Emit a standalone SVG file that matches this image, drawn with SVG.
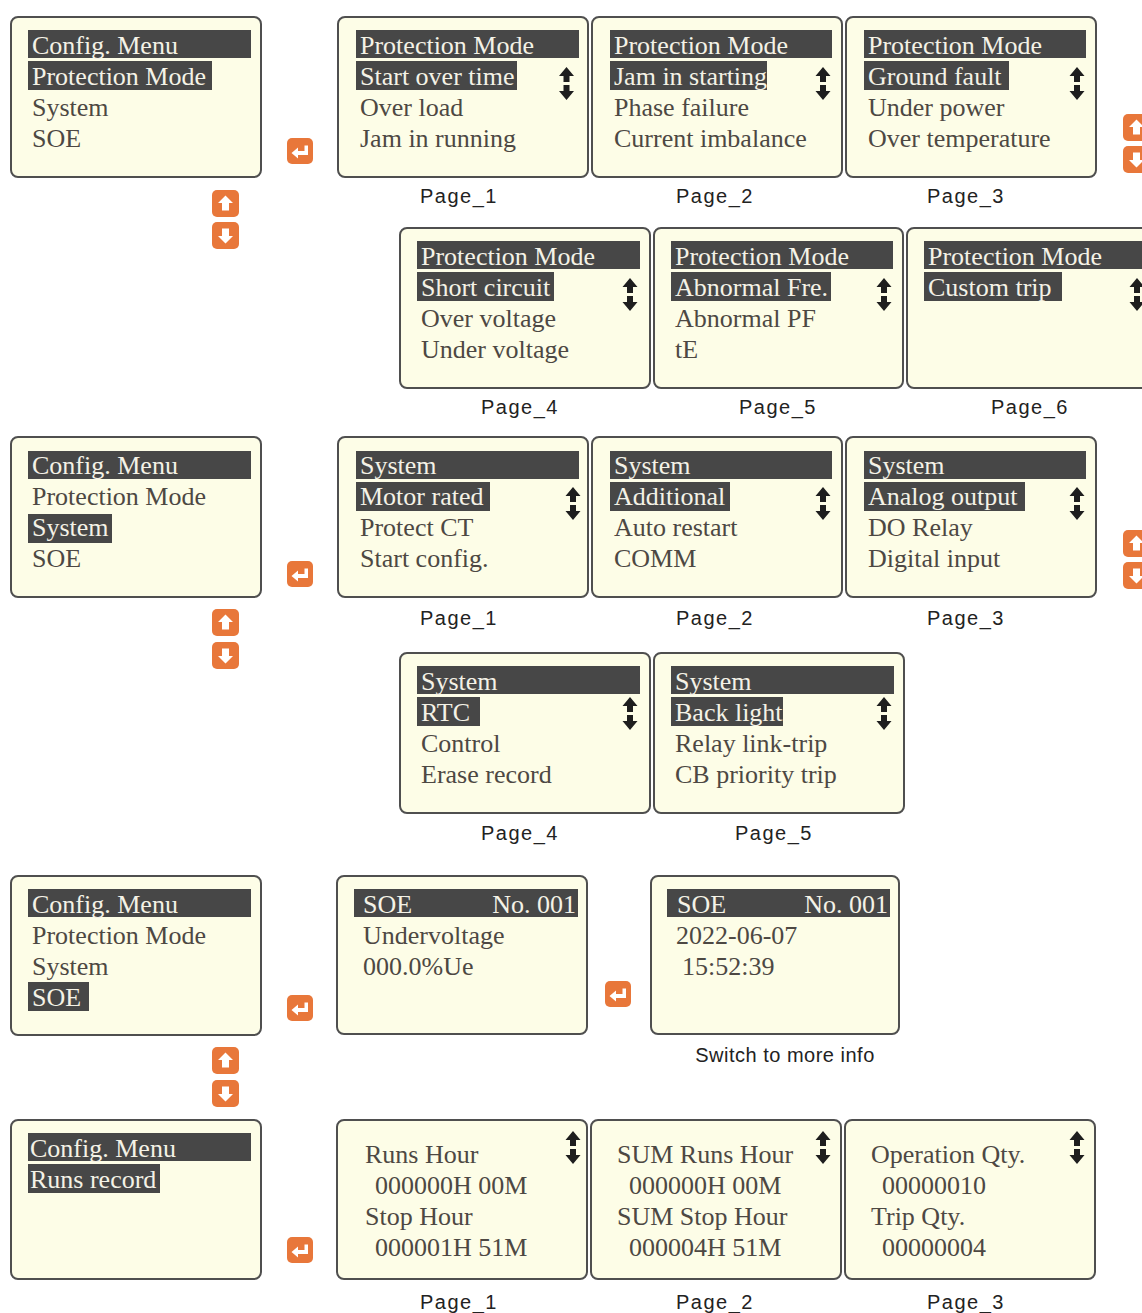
<svg xmlns="http://www.w3.org/2000/svg" width="1142" height="1313" viewBox="0 0 1142 1313">
<style>
.scr{fill:#fdfde7;stroke:#4f4f4f;stroke-width:2}
.bar{fill:#474747}
.t{font-family:"Liberation Serif","Times New Roman",serif;font-size:26px;fill:#4d4843}
.tw{fill:#f4f2e6}
.lbl{font-family:"Liberation Sans",Arial,sans-serif;font-size:20px;fill:#222;text-anchor:middle;letter-spacing:1.5px}
.btn{fill:#e8773a}
.ico{fill:#ffffff}
.ud{fill:#1e1e1e}
</style>
<defs>
<g id="ud">
<path class="ud" d="M-7.5,9 L0,0 L7.5,9 L3,9 L3,15 L-3,15 L-3,9 Z"/>
<path class="ud" d="M-3,18 L3,18 L3,24 L7.5,24 L0,33 L-7.5,24 L-3,24 Z"/>
</g>
<g id="bup">
<rect class="btn" x="0" y="0" width="27" height="27" rx="5"/>
<path class="ico" d="M13.5,5.5 L21,13 L17,13 L17,20.5 L10,20.5 L10,13 L6,13 Z"/>
</g>
<g id="bdn">
<rect class="btn" x="0" y="0" width="27" height="27" rx="5"/>
<path class="ico" d="M13.5,21.5 L21,14 L17,14 L17,6.5 L10,6.5 L10,14 L6,14 Z"/>
</g>
<g id="bent">
<rect class="btn" x="0" y="0" width="26" height="26" rx="5"/>
<path class="ico" d="M21,7.5 L21,17 L11,17 L11,20.5 L4.5,15 L11,9.5 L11,13 L17.5,13 L17.5,7.5 Z"/>
</g>
</defs>
<rect x="0" y="0" width="1142" height="1313" fill="#ffffff"/>

<!-- Row 1: Config menu, Protection Mode selected -->
<g id="menu-protection">
<rect class="scr" x="11" y="17" width="250" height="160" rx="7"/>
<rect class="bar" x="28" y="30" width="223" height="28"/>
<rect class="bar" x="28" y="61" width="184" height="29"/>
<text class="t tw" x="32" y="54">Config. Menu</text>
<text class="t tw" x="32" y="85">Protection Mode</text>
<text class="t" x="32" y="116">System</text>
<text class="t" x="32" y="147">SOE</text>
</g>
<g id="pm-page1">
<rect class="scr" x="338" y="17" width="250" height="160" rx="7"/>
<rect class="bar" x="356" y="30" width="223" height="28"/>
<rect class="bar" x="356" y="61" width="161" height="29"/>
<text class="t tw" x="360" y="54">Protection Mode</text>
<text class="t tw" x="360" y="85">Start over time</text>
<text class="t" x="360" y="116">Over load</text>
<text class="t" x="360" y="147">Jam in running</text>
<use href="#ud" x="566.5" y="67"/>
<text class="lbl" x="459" y="203">Page_1</text>
</g>
<g id="pm-page2">
<rect class="scr" x="592" y="17" width="250" height="160" rx="7"/>
<rect class="bar" x="610" y="30" width="222" height="28"/>
<rect class="bar" x="610" y="61" width="157" height="29"/>
<text class="t tw" x="614" y="54">Protection Mode</text>
<text class="t tw" x="614" y="85">Jam in starting</text>
<text class="t" x="614" y="116">Phase failure</text>
<text class="t" x="614" y="147">Current imbalance</text>
<use href="#ud" x="823" y="67"/>
<text class="lbl" x="715" y="203">Page_2</text>
</g>
<g id="pm-page3">
<rect class="scr" x="846" y="17" width="250" height="160" rx="7"/>
<rect class="bar" x="864" y="30" width="222" height="28"/>
<rect class="bar" x="864" y="61" width="145" height="29"/>
<text class="t tw" x="868" y="54">Protection Mode</text>
<text class="t tw" x="868" y="85">Ground fault</text>
<text class="t" x="868" y="116">Under power</text>
<text class="t" x="868" y="147">Over temperature</text>
<use href="#ud" x="1077" y="67"/>
<text class="lbl" x="966" y="203">Page_3</text>
</g>

<!-- Row 2 -->
<g id="pm-page4">
<rect class="scr" x="400" y="228" width="250" height="160" rx="7"/>
<rect class="bar" x="417" y="241" width="223" height="28"/>
<rect class="bar" x="417" y="272" width="137" height="29"/>
<text class="t tw" x="421" y="265">Protection Mode</text>
<text class="t tw" x="421" y="296">Short circuit</text>
<text class="t" x="421" y="327">Over voltage</text>
<text class="t" x="421" y="358">Under voltage</text>
<use href="#ud" x="630" y="278"/>
<text class="lbl" x="520" y="414">Page_4</text>
</g>
<g id="pm-page5">
<rect class="scr" x="654" y="228" width="249" height="160" rx="7"/>
<rect class="bar" x="671" y="241" width="222" height="28"/>
<rect class="bar" x="671" y="272" width="160" height="29"/>
<text class="t tw" x="675" y="265">Protection Mode</text>
<text class="t tw" x="675" y="296">Abnormal Fre.</text>
<text class="t" x="675" y="327">Abnormal PF</text>
<text class="t" x="675" y="358">tE</text>
<use href="#ud" x="884" y="278"/>
<text class="lbl" x="778" y="414">Page_5</text>
</g>
<g id="pm-page6">
<rect class="scr" x="907" y="228" width="250" height="160" rx="7"/>
<rect class="bar" x="924" y="241" width="224" height="28"/>
<rect class="bar" x="924" y="272" width="138" height="29"/>
<text class="t tw" x="928" y="265">Protection Mode</text>
<text class="t tw" x="928" y="296">Custom trip</text>
<use href="#ud" x="1137" y="278"/>
<text class="lbl" x="1030" y="414">Page_6</text>
</g>

<!-- Row 3: System -->
<g id="menu-system">
<rect class="scr" x="11" y="437" width="250" height="160" rx="7"/>
<rect class="bar" x="28" y="451" width="223" height="28"/>
<rect class="bar" x="28" y="514" width="84" height="29"/>
<text class="t tw" x="32" y="474">Config. Menu</text>
<text class="t" x="32" y="505">Protection Mode</text>
<text class="t tw" x="32" y="536">System</text>
<text class="t" x="32" y="567">SOE</text>
</g>
<g id="sys-page1">
<rect class="scr" x="338" y="437" width="250" height="160" rx="7"/>
<rect class="bar" x="356" y="451" width="223" height="28"/>
<rect class="bar" x="356" y="482" width="134" height="29"/>
<text class="t tw" x="360" y="474">System</text>
<text class="t tw" x="360" y="505">Motor rated</text>
<text class="t" x="360" y="536">Protect CT</text>
<text class="t" x="360" y="567">Start config.</text>
<use href="#ud" x="573" y="487"/>
<text class="lbl" x="459" y="625">Page_1</text>
</g>
<g id="sys-page2">
<rect class="scr" x="592" y="437" width="250" height="160" rx="7"/>
<rect class="bar" x="610" y="451" width="222" height="28"/>
<rect class="bar" x="610" y="482" width="120" height="29"/>
<text class="t tw" x="614" y="474">System</text>
<text class="t tw" x="614" y="505">Additional</text>
<text class="t" x="614" y="536">Auto restart</text>
<text class="t" x="614" y="567">COMM</text>
<use href="#ud" x="823" y="487"/>
<text class="lbl" x="715" y="625">Page_2</text>
</g>
<g id="sys-page3">
<rect class="scr" x="846" y="437" width="250" height="160" rx="7"/>
<rect class="bar" x="864" y="451" width="222" height="28"/>
<rect class="bar" x="864" y="482" width="161" height="29"/>
<text class="t tw" x="868" y="474">System</text>
<text class="t tw" x="868" y="505">Analog output</text>
<text class="t" x="868" y="536">DO Relay</text>
<text class="t" x="868" y="567">Digital input</text>
<use href="#ud" x="1077" y="487"/>
<text class="lbl" x="966" y="625">Page_3</text>
</g>

<!-- Row 4 -->
<g id="sys-page4">
<rect class="scr" x="400" y="653" width="250" height="160" rx="7"/>
<rect class="bar" x="417" y="666" width="223" height="28"/>
<rect class="bar" x="417" y="697" width="63" height="29"/>
<text class="t tw" x="421" y="690">System</text>
<text class="t tw" x="421" y="721">RTC</text>
<text class="t" x="421" y="752">Control</text>
<text class="t" x="421" y="783">Erase record</text>
<use href="#ud" x="630" y="697"/>
<text class="lbl" x="520" y="840">Page_4</text>
</g>
<g id="sys-page5">
<rect class="scr" x="654" y="653" width="250" height="160" rx="7"/>
<rect class="bar" x="671" y="666" width="223" height="28"/>
<rect class="bar" x="671" y="697" width="112" height="29"/>
<text class="t tw" x="675" y="690">System</text>
<text class="t tw" x="675" y="721">Back light</text>
<text class="t" x="675" y="752">Relay link-trip</text>
<text class="t" x="675" y="783">CB priority trip</text>
<use href="#ud" x="884" y="697"/>
<text class="lbl" x="774" y="840">Page_5</text>
</g>

<!-- Row 5: SOE -->
<g id="menu-soe">
<rect class="scr" x="11" y="876" width="250" height="159" rx="7"/>
<rect class="bar" x="28" y="889" width="223" height="28"/>
<rect class="bar" x="28" y="982" width="61" height="29"/>
<text class="t tw" x="32" y="913">Config. Menu</text>
<text class="t" x="32" y="944">Protection Mode</text>
<text class="t" x="32" y="975">System</text>
<text class="t tw" x="32" y="1006">SOE</text>
</g>
<g id="soe-record">
<rect class="scr" x="337" y="876" width="250" height="158" rx="7"/>
<rect class="bar" x="354" y="889" width="224" height="28"/>
<text class="t tw" x="363" y="913">SOE</text>
<text class="t tw" x="576" y="913" text-anchor="end">No. 001</text>
<text class="t" x="363" y="944">Undervoltage</text>
<text class="t" x="363" y="975">000.0%Ue</text>
</g>
<g id="soe-detail">
<rect class="scr" x="651" y="876" width="248" height="158" rx="7"/>
<rect class="bar" x="667" y="889" width="223" height="28"/>
<text class="t tw" x="677" y="913">SOE</text>
<text class="t tw" x="888" y="913" text-anchor="end">No. 001</text>
<text class="t" x="676" y="944">2022-06-07</text>
<text class="t" x="682" y="975">15:52:39</text>
<text class="lbl" x="785" y="1062" style="letter-spacing:0.5px">Switch to more info</text>
</g>

<!-- Row 6: Runs record -->
<g id="menu-runs">
<rect class="scr" x="11" y="1120" width="250" height="159" rx="7"/>
<rect class="bar" x="28" y="1133" width="223" height="28"/>
<rect class="bar" x="28" y="1164" width="132" height="29"/>
<text class="t tw" x="30" y="1157">Config. Menu</text>
<text class="t tw" x="30" y="1188">Runs record</text>
</g>
<g id="runs-page1">
<rect class="scr" x="337" y="1120" width="250" height="159" rx="7"/>
<text class="t" x="365" y="1163">Runs Hour</text>
<text class="t" x="375" y="1194">000000H 00M</text>
<text class="t" x="365" y="1225">Stop Hour</text>
<text class="t" x="375" y="1256">000001H 51M</text>
<use href="#ud" x="573" y="1131"/>
<text class="lbl" x="459" y="1309">Page_1</text>
</g>
<g id="runs-page2">
<rect class="scr" x="591" y="1120" width="250" height="159" rx="7"/>
<text class="t" x="617" y="1163">SUM Runs Hour</text>
<text class="t" x="629" y="1194">000000H 00M</text>
<text class="t" x="617" y="1225">SUM Stop Hour</text>
<text class="t" x="629" y="1256">000004H 51M</text>
<use href="#ud" x="823" y="1131"/>
<text class="lbl" x="715" y="1309">Page_2</text>
</g>
<g id="runs-page3">
<rect class="scr" x="845" y="1120" width="250" height="159" rx="7"/>
<text class="t" x="871" y="1163">Operation Qty.</text>
<text class="t" x="882" y="1194">00000010</text>
<text class="t" x="871" y="1225">Trip Qty.</text>
<text class="t" x="882" y="1256">00000004</text>
<use href="#ud" x="1077" y="1131"/>
<text class="lbl" x="966" y="1309">Page_3</text>
</g>

<!-- Navigation keys (connectors between screens) -->
<g id="connectors">
<use href="#bent" x="287" y="138"/>
<use href="#bup" x="212" y="190"/>
<use href="#bdn" x="212" y="222"/>
<use href="#bup" x="1123" y="114"/>
<use href="#bdn" x="1123" y="146"/>
<use href="#bent" x="287" y="561"/>
<use href="#bup" x="212" y="609"/>
<use href="#bdn" x="212" y="642"/>
<use href="#bup" x="1123" y="530"/>
<use href="#bdn" x="1123" y="562"/>
<use href="#bent" x="287" y="995"/>
<use href="#bent" x="605" y="981"/>
<use href="#bup" x="212" y="1047"/>
<use href="#bdn" x="212" y="1080"/>
<use href="#bent" x="287" y="1237"/>
</g>
</svg>
